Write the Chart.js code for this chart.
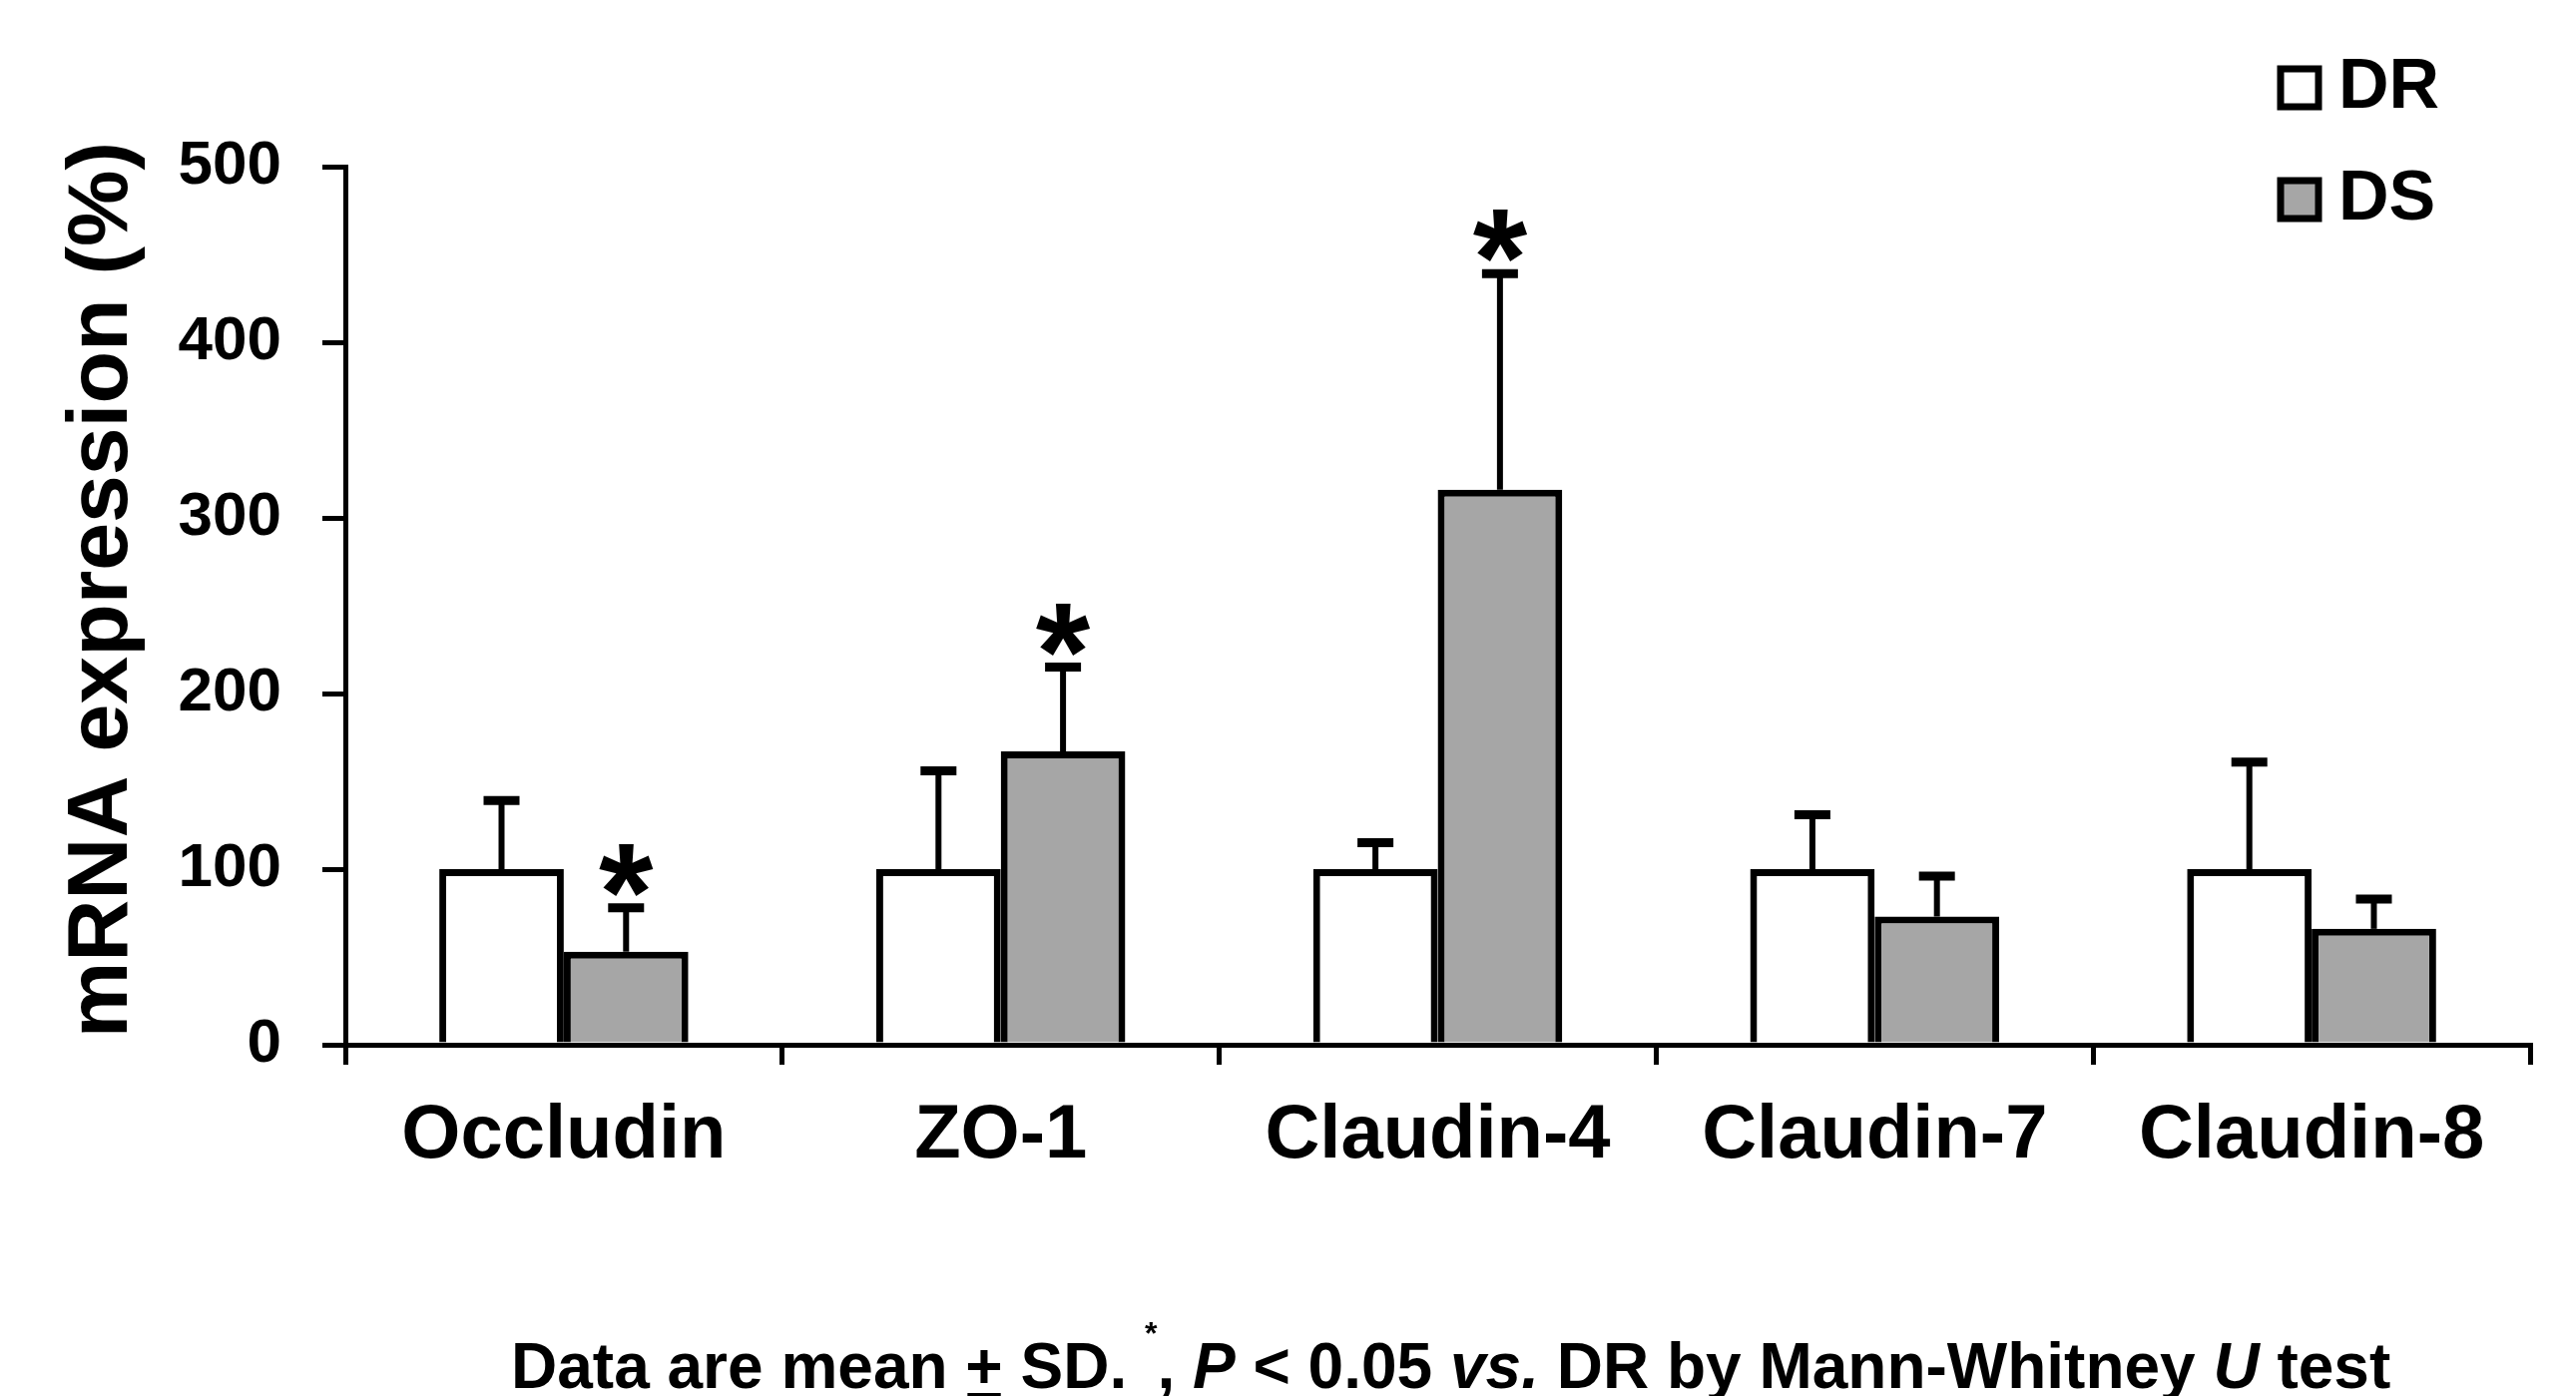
<!DOCTYPE html>
<html>
<head>
<meta charset="utf-8">
<script src="https://cdn.jsdelivr.net/npm/chart.js@4.4.1/dist/chart.umd.min.js"></script>
<style>
html, body { margin: 0; padding: 0; background: #fff; }
canvas { display: block; }
</style>
</head>
<body>
<canvas id="grafico" width="2581" height="1399"></canvas>
<script>
var categorias = ["Occludin", "ZO-1", "Claudin-4", "Claudin-7", "Claudin-8"];
var valoresDR = [100, 100, 100, 100, 100];
var sdDR = [39, 56, 15, 31, 61];
var valoresDS = [53, 167, 316, 73, 66];
var sdDS = [25, 48, 123, 23, 17];
var significativoDS = [true, true, true, false, false];
var ticksY = [0, 100, 200, 300, 400, 500];
var tituloY = "mRNA expression (%)";

var fuente = '"Liberation Sans", Arial, sans-serif';
Chart.defaults.font.family = fuente;
Chart.defaults.color = "#000";

// barras de error + asteriscos
const errorBars = {
    id: "errorBars",
    afterDatasetsDraw(chart) {
        const ctx = chart.ctx;
        const y = chart.scales.y;
        chart.data.datasets.forEach((ds, d) => {
            const meta = chart.getDatasetMeta(d);
            meta.data.forEach((bar, i) => {
                const top = y.getPixelForValue(ds.data[i]);
                const end = y.getPixelForValue(ds.data[i] + ds.sd[i]);
                ctx.save();
                ctx.strokeStyle = "#000";
                ctx.lineWidth = 6;
                ctx.beginPath();
                ctx.moveTo(bar.x, top);
                ctx.lineTo(bar.x, end);
                ctx.stroke();
                ctx.lineWidth = 9;
                ctx.beginPath();
                ctx.moveTo(bar.x - 18, end);
                ctx.lineTo(bar.x + 18, end);
                ctx.stroke();
                if (ds.sig && ds.sig[i]) {
                    ctx.font = "bold 140px " + fuente;
                    ctx.fillStyle = "#000";
                    ctx.textAlign = "center";
                    ctx.textBaseline = "alphabetic";
                    const m = ctx.measureText("*");
                    ctx.fillText("*", bar.x, end - 12 - m.actualBoundingBoxDescent);
                }
                ctx.restore();
            });
        });
    },
};

// titulo del eje y, centrado como en la figura
const tituloEjeY = {
    id: "tituloEjeY",
    afterDraw(chart) {
        const ctx = chart.ctx;
        ctx.save();
        ctx.translate(103, 591);
        ctx.rotate(-Math.PI / 2);
        ctx.font = "bold 86px " + fuente;
        ctx.fillStyle = "#000";
        ctx.textAlign = "center";
        ctx.textBaseline = "middle";
        ctx.fillText(tituloY, 0, 0);
        ctx.restore();
    },
};

// leyenda vertical arriba a la derecha
const leyenda = {
    id: "leyenda",
    afterDraw(chart) {
        const ctx = chart.ctx;
        const filas = [88, 200];
        ctx.save();
        chart.data.datasets.forEach((ds, d) => {
            const yc = filas[d];
            ctx.fillStyle = ds.backgroundColor;
            ctx.strokeStyle = "#000";
            ctx.lineWidth = 7;
            ctx.fillRect(2285, yc - 19, 38, 38);
            ctx.strokeRect(2285, yc - 19, 38, 38);
            ctx.fillStyle = "#000";
            ctx.font = "bold 70px " + fuente;
            ctx.textAlign = "left";
            ctx.textBaseline = "alphabetic";
            ctx.fillText(ds.label, 2343, yc + 20);
        });
        ctx.restore();
    },
};

// nota al pie
const notaPie = {
    id: "notaPie",
    afterDraw(chart) {
        const ctx = chart.ctx;
        const partes = [
            { t: "Data are mean ", s: "n" },
            { t: "+", s: "u" },
            { t: " SD. ", s: "n" },
            { t: "*", s: "sup" },
            { t: ", ", s: "n" },
            { t: "P", s: "i" },
            { t: " < 0.05 ", s: "n" },
            { t: "vs.", s: "i" },
            { t: " DR by Mann-Whitney ", s: "n" },
            { t: "U", s: "i" },
            { t: " test", s: "n" },
        ];
        let x = 512;
        const base = 1391;
        ctx.save();
        ctx.fillStyle = "#000";
        ctx.textAlign = "left";
        ctx.textBaseline = "alphabetic";
        partes.forEach((p) => {
            if (p.s === "i") ctx.font = "italic bold 64px " + fuente;
            else if (p.s === "sup") ctx.font = "bold 32px " + fuente;
            else ctx.font = "bold 64px " + fuente;
            const w = ctx.measureText(p.t).width;
            ctx.fillText(p.t, x, p.s === "sup" ? base - 44 : base);
            if (p.s === "u") ctx.fillRect(x + 2, base + 5, w - 4, 5);
            x += w;
        });
        ctx.restore();
    },
};

new Chart(document.getElementById("grafico"), {
    type: "bar",
    data: {
        labels: categorias,
        datasets: [
            {
                label: "DR",
                data: valoresDR,
                sd: sdDR,
                backgroundColor: "#ffffff",
                borderColor: "#000000",
                borderWidth: 7,
            },
            {
                label: "DS",
                data: valoresDS,
                sd: sdDS,
                sig: significativoDS,
                backgroundColor: "#a6a6a6",
                borderColor: "#000000",
                borderWidth: 7,
            },
        ],
    },
    options: {
        responsive: false,
        animation: false,
        devicePixelRatio: 1,
        categoryPercentage: 0.57,
        barPercentage: 1.0,
        layout: {
            padding: { top: 167, right: 46, bottom: 0, left: 0 },
        },
        plugins: {
            legend: { display: false },
            tooltip: { enabled: false },
        },
        scales: {
            x: {
                grid: {
                    drawOnChartArea: false,
                    color: "#000",
                    lineWidth: 5,
                    tickLength: 20,
                },
                border: { color: "#000", width: 5 },
                ticks: {
                    font: { size: 76, weight: "bold" },
                    padding: 26,
                    maxRotation: 0,
                },
                afterFit: (scale) => {
                    scale.height = 352;
                },
            },
            y: {
                min: ticksY[0],
                max: ticksY[ticksY.length - 1],
                ticks: {
                    stepSize: 100,
                    font: { size: 62, weight: "bold" },
                    padding: 41,
                },
                grid: {
                    drawOnChartArea: false,
                    color: "#000",
                    lineWidth: 5,
                    tickLength: 23,
                },
                border: { color: "#000", width: 5 },
                afterFit: (scale) => {
                    scale.width = 346;
                },
            },
        },
    },
    plugins: [errorBars, tituloEjeY, leyenda, notaPie],
});
</script>
</body>
</html>
